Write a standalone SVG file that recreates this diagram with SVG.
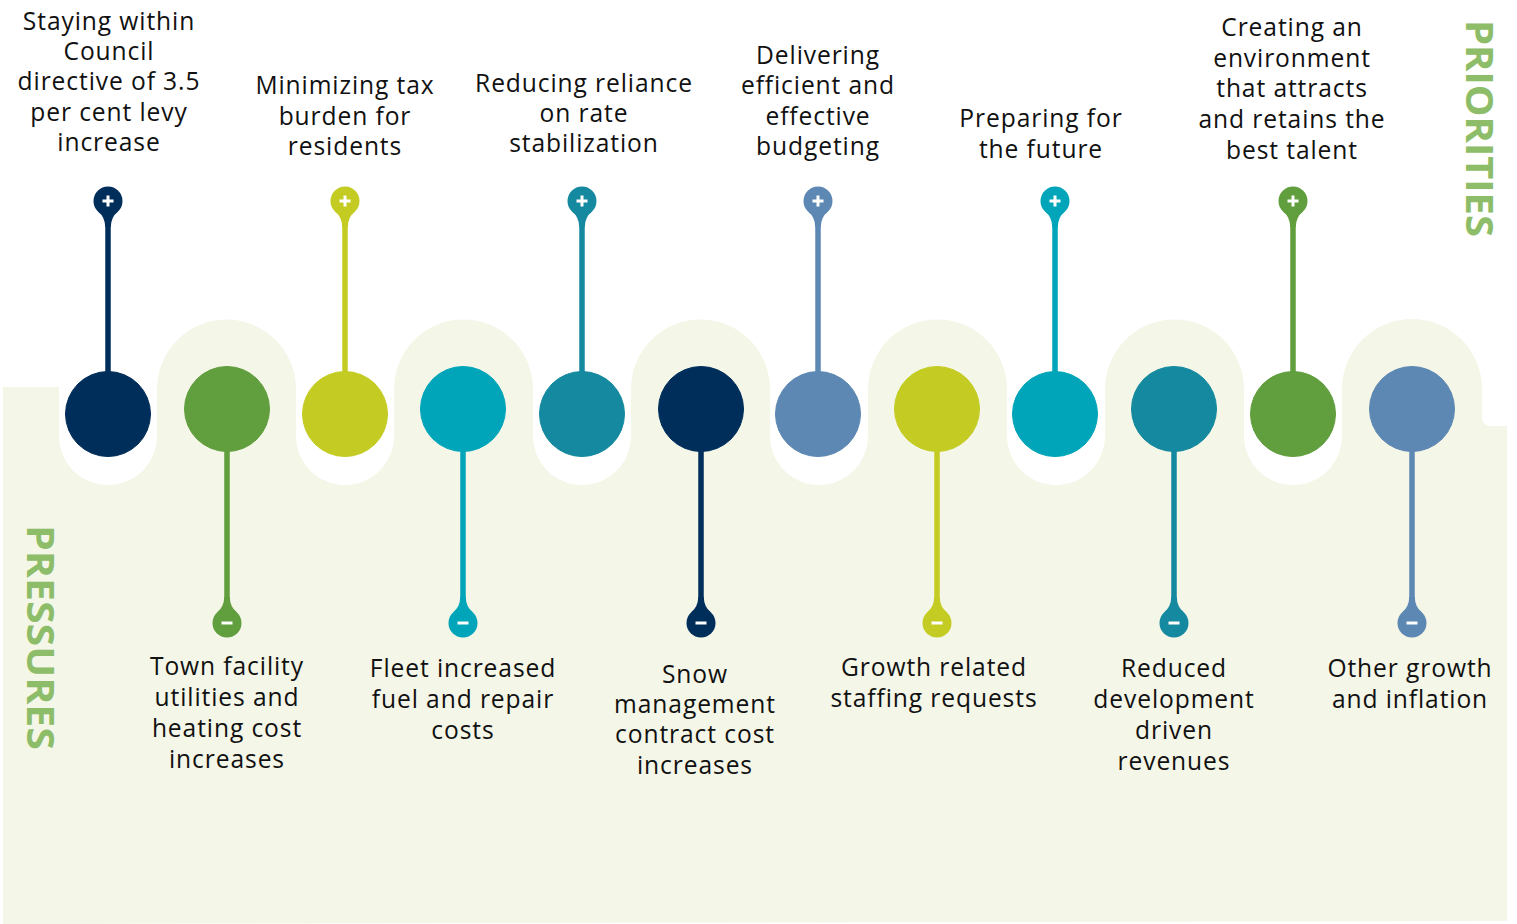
<svg xmlns="http://www.w3.org/2000/svg" width="1517" height="924" viewBox="0 0 1517 924">
<style>
.lbl{font-family:"Open Sans","Noto Sans","Liberation Sans",sans-serif;font-size:24.6px;letter-spacing:0.9px;fill:#111;text-anchor:middle}
.side{font-family:"Open Sans","Noto Sans","Liberation Sans",sans-serif;font-weight:700;font-size:38px;fill:#8dbd68}
.stem{stroke-width:5.5;fill:none}
.sym{stroke:#fff;stroke-width:3;fill:none}
.navy{fill:#002e5b;stroke:#002e5b}
.lime{fill:#c4cc23;stroke:#c4cc23}
.dteal{fill:#14899f;stroke:#14899f}
.blue{fill:#5d88b3;stroke:#5d88b3}
.bteal{fill:#00a5b9;stroke:#00a5b9}
.green{fill:#619e3d;stroke:#619e3d}
</style>
<defs>
<g id="pinTop">
<circle cx="0" cy="0" r="14.5" stroke="none"/>
<path d="M-10,10.5 Q-3,16 -2.75,26 L2.75,26 Q3,16 10,10.5 Z" stroke="none"/>
<path class="sym" d="M-5.5,0 H5.5 M0,-5.5 V5.5"/>
</g>
<g id="pinBot">
<circle cx="0" cy="0" r="14.5" stroke="none"/>
<path d="M-10,-10.5 Q-3,-16 -2.75,-26 L2.75,-26 Q3,-16 10,-10.5 Z" stroke="none"/>
<path class="sym" d="M-5.5,0 H5.5"/>
</g>
</defs>
<path id="background" fill="#f4f6e8" d="M3,924 L3,387 L59,387 L59,436 A49,49 0 0 0 157,436 L157,389 A69.5,69.5 0 0 1 296,389 L296,436 A49,49 0 0 0 394,436 L394,389 A69.5,69.5 0 0 1 533,389 L533,436 A49,49 0 0 0 631,436 L631,389 A69.5,69.5 0 0 1 770,389 L770,436 A49,49 0 0 0 868,436 L868,389 A69.5,69.5 0 0 1 1007,389 L1007,436 A49,49 0 0 0 1105,436 L1105,389 A69.5,69.5 0 0 1 1244,389 L1244,436 A49,49 0 0 0 1342,436 L1342,389 A70,70 0 0 1 1482,389 L1482,418 A8,8 0 0 0 1490,426 L1507,426 L1507,921 Z"/>
<text class="side" transform="translate(1466,20) rotate(90)" textLength="217" lengthAdjust="spacingAndGlyphs">PRIORITIES</text>
<text class="side" transform="translate(27,525) rotate(90)" textLength="225" lengthAdjust="spacingAndGlyphs">PRESSURES</text>
<g id="connectors">
<line class="stem navy" x1="108" y1="220" x2="108" y2="380"/>
<line class="stem lime" x1="345" y1="220" x2="345" y2="380"/>
<line class="stem dteal" x1="582" y1="220" x2="582" y2="380"/>
<line class="stem blue" x1="818" y1="220" x2="818" y2="380"/>
<line class="stem bteal" x1="1055" y1="220" x2="1055" y2="380"/>
<line class="stem green" x1="1293" y1="220" x2="1293" y2="380"/>
<line class="stem green" x1="227" y1="440" x2="227" y2="605"/>
<line class="stem bteal" x1="463" y1="440" x2="463" y2="605"/>
<line class="stem navy" x1="701" y1="440" x2="701" y2="605"/>
<line class="stem lime" x1="937" y1="440" x2="937" y2="605"/>
<line class="stem dteal" x1="1174" y1="440" x2="1174" y2="605"/>
<line class="stem blue" x1="1412" y1="440" x2="1412" y2="605"/>
</g>
<g id="p1"><circle class="navy" cx="108" cy="414" r="42.5" stroke="none"/><use href="#pinTop" class="navy" x="108" y="201"/>
<text class="lbl"><tspan x="109" y="30">Staying within</tspan><tspan x="109" y="60">Council</tspan><tspan x="109" y="90">directive of 3.5</tspan><tspan x="109" y="121">per cent levy</tspan><tspan x="109" y="151">increase</tspan></text></g>
<g id="p2"><circle class="lime" cx="345" cy="414" r="42.5" stroke="none"/><use href="#pinTop" class="lime" x="345" y="201"/>
<text class="lbl"><tspan x="345" y="94">Minimizing tax</tspan><tspan x="345" y="125">burden for</tspan><tspan x="345" y="155">residents</tspan></text></g>
<g id="p3"><circle class="dteal" cx="582" cy="414" r="42.5" stroke="none"/><use href="#pinTop" class="dteal" x="582" y="201"/>
<text class="lbl"><tspan x="584" y="92">Reducing reliance</tspan><tspan x="584" y="122">on rate</tspan><tspan x="584" y="152">stabilization</tspan></text></g>
<g id="p4"><circle class="blue" cx="818" cy="414" r="42.5" stroke="none"/><use href="#pinTop" class="blue" x="818" y="201"/>
<text class="lbl"><tspan x="818" y="64">Delivering</tspan><tspan x="818" y="94">efficient and</tspan><tspan x="818" y="125">effective</tspan><tspan x="818" y="155">budgeting</tspan></text></g>
<g id="p5"><circle class="bteal" cx="1055" cy="414" r="42.5" stroke="none"/><use href="#pinTop" class="bteal" x="1055" y="201"/>
<text class="lbl"><tspan x="1041" y="127">Preparing for</tspan><tspan x="1041" y="158">the future</tspan></text></g>
<g id="p6"><circle class="green" cx="1293" cy="414" r="42.5" stroke="none"/><use href="#pinTop" class="green" x="1293" y="201"/>
<text class="lbl"><tspan x="1292" y="36">Creating an</tspan><tspan x="1292" y="67">environment</tspan><tspan x="1292" y="97">that attracts</tspan><tspan x="1292" y="128">and retains the</tspan><tspan x="1292" y="159">best talent</tspan></text></g>
<g id="q1"><circle class="green" cx="227" cy="409" r="42.5" stroke="none"/><use href="#pinBot" class="green" x="227" y="623"/>
<text class="lbl"><tspan x="227" y="675">Town facility</tspan><tspan x="227" y="706">utilities and</tspan><tspan x="227" y="737">heating cost</tspan><tspan x="227" y="768">increases</tspan></text></g>
<g id="q2"><circle class="bteal" cx="463" cy="409" r="42.5" stroke="none"/><use href="#pinBot" class="bteal" x="463" y="623"/>
<text class="lbl"><tspan x="463" y="677">Fleet increased</tspan><tspan x="463" y="708">fuel and repair</tspan><tspan x="463" y="739">costs</tspan></text></g>
<g id="q3"><circle class="navy" cx="701" cy="409" r="42.5" stroke="none"/><use href="#pinBot" class="navy" x="701" y="623"/>
<text class="lbl"><tspan x="695" y="683">Snow</tspan><tspan x="695" y="713">management</tspan><tspan x="695" y="743">contract cost</tspan><tspan x="695" y="774">increases</tspan></text></g>
<g id="q4"><circle class="lime" cx="937" cy="409" r="42.5" stroke="none"/><use href="#pinBot" class="lime" x="937" y="623"/>
<text class="lbl"><tspan x="934" y="676">Growth related</tspan><tspan x="934" y="707">staffing requests</tspan></text></g>
<g id="q5"><circle class="dteal" cx="1174" cy="409" r="42.5" stroke="none"/><use href="#pinBot" class="dteal" x="1174" y="623"/>
<text class="lbl"><tspan x="1174" y="677">Reduced</tspan><tspan x="1174" y="708">development</tspan><tspan x="1174" y="739">driven</tspan><tspan x="1174" y="770">revenues</tspan></text></g>
<g id="q6"><circle class="blue" cx="1412" cy="409" r="42.5" stroke="none"/><use href="#pinBot" class="blue" x="1412" y="623"/>
<text class="lbl"><tspan x="1410" y="677">Other growth</tspan><tspan x="1410" y="708">and inflation</tspan></text></g>
</svg>
